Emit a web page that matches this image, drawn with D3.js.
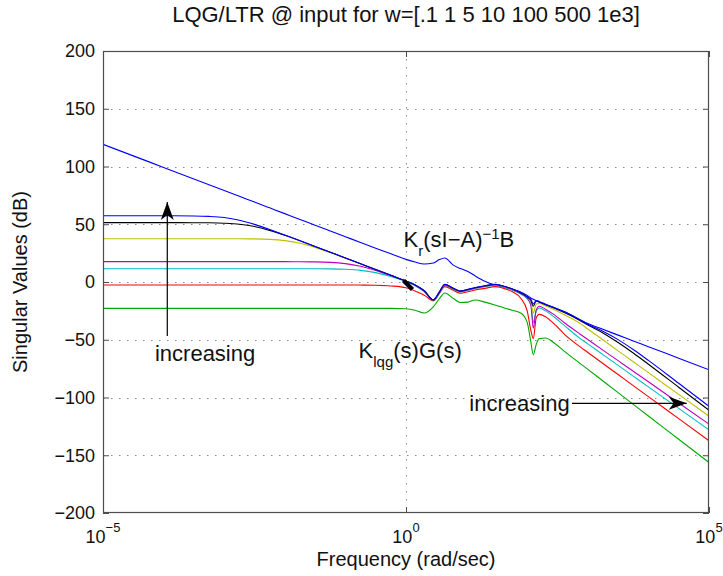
<!DOCTYPE html>
<html>
<head>
<meta charset="utf-8">
<script src="https://cdn.jsdelivr.net/npm/d3@7"></script>
<style>
  body { margin: 0; background: #fff; }
  text { font-family: "Liberation Sans", Arial, Helvetica, sans-serif; fill: #111; }
</style>
</head>
<body>
<svg id="chart" width="723" height="576"></svg>
<script>
// Frequency grid (rad/sec) shared by every singular-value trace
const freq = [1e-5, 3.16e-5, 1e-4, 3.16e-4, 5.62e-4, 1e-3, 1.78e-3, 3.16e-3, 5.62e-3, 0.01,
  0.0178, 0.0316, 0.0562, 0.1, 0.178, 0.316, 0.562, 1, 1.41, 2.0,
  2.82, 3.55, 4.37, 6.03, 7.94, 10.5, 13.8, 20.0, 29.5, 39.8,
  56.2, 79.4, 100, 115, 126, 141, 158, 200, 282, 417,
  741, 1000, 1778, 3162, 5623, 1e4, 3.16e4, 1e5];

// Target loop Kr(sI-A)^-1 B  (dB)
const targetLoop = [119.2, 109.2, 99.2, 89.2, 84.2, 79.2, 74.2, 69.2, 64.2, 59.2,
  54.2, 49.2, 44.2, 39.2, 34.2, 29.3, 24.4, 19.6, 17.3, 15.6,
  16.4, 19.4, 20.8, 14.6, 11.6, 9.1, 5.3, 0.7, -2.6, -4.3,
  -6.4, -8.8, -11.6, -13.8, -15.0, -16.2, -17.3, -19.3, -22.2, -25.8,
  -32.6, -35.9, -41.0, -46.0, -51.0, -56.0, -66.0, -76.0];

// Recovered loops Klqg(s)G(s) for each recovery gain w  (dB)
const svW01 = [-22.8, -22.8, -22.8, -22.8, -22.8, -22.8, -22.8, -22.8, -22.8, -22.8,
  -22.8, -22.8, -22.8, -22.8, -22.8, -22.8, -22.8, -23.2, -24.5, -26.9,
  -21.5, -14.5, -9.5, -14.3, -17.8, -17.4, -15.6, -17.4, -19.9, -22.0,
  -24.4, -27.0, -35.0, -52.0, -63.0, -54.0, -49.0, -48.5, -53.0, -60.3,
  -70.4, -75.6, -85.7, -95.8, -105.9, -116.0, -136.1, -156.3];
const svW1 = [-2.6, -2.6, -2.6, -2.6, -2.6, -2.6, -2.6, -2.6, -2.6, -2.6,
  -2.6, -2.6, -2.6, -2.6, -2.65, -2.8, -3.4, -5.0, -7.8, -11.5,
  -16.2, -10.0, -4.0, -7.2, -9.8, -8.4, -6.9, -5.5, -4.0, -5.3,
  -8.3, -14.5, -25.0, -42.0, -49.0, -31.0, -28.0, -30.0, -36.5, -45.5,
  -56.0, -61.0, -70.6, -80.1, -89.7, -99.2, -118.3, -137.4];
const svW5 = [11.5, 11.5, 11.5, 11.5, 11.5, 11.5, 11.5, 11.5, 11.5, 11.5,
  11.5, 11.45, 11.35, 11.0, 10.1, 8.1, 4.8, 0.4, -3.2, -8.4,
  -16.3, -9.6, -2.9, -6.2, -8.6, -7.2, -5.6, -4.0, -2.7, -4.2,
  -6.9, -10.6, -14.5, -19.5, -35.0, -25.0, -22.5, -25.0, -30.5, -38.0,
  -48.8, -53.6, -62.9, -72.2, -81.5, -90.8, -109.4, -128.0];
const svW10 = [17.6, 17.6, 17.6, 17.6, 17.6, 17.6, 17.6, 17.6, 17.6, 17.6,
  17.5, 17.4, 17.0, 15.9, 13.6, 10.0, 5.5, 0.7, -2.8, -8.0,
  -16.0, -9.2, -2.5, -5.9, -8.3, -6.9, -5.3, -3.7, -2.4, -3.9,
  -6.5, -10.2, -14.0, -20.0, -40.0, -24.0, -21.0, -23.5, -28.5, -35.5,
  -45.0, -49.8, -59.0, -68.1, -77.3, -86.4, -104.7, -123.0];
const svW100 = [37.5, 37.5, 37.5, 37.5, 37.5, 37.5, 37.4, 37.3, 36.9, 35.8,
  33.6, 30.0, 25.5, 20.7, 15.8, 10.8, 5.8, 0.8, -2.6, -7.7,
  -15.6, -8.8, -2.2, -5.6, -8.0, -6.6, -5.1, -3.5, -2.2, -3.6,
  -6.2, -9.8, -13.3, -17.0, -27.0, -19.0, -18.6, -20.6, -24.0, -28.6,
  -35.8, -40.7, -50.0, -59.6, -69.0, -78.5, -97.3, -116.2];
const svW500 = [51.4, 51.4, 51.4, 51.35, 51.25, 50.9, 50.05, 48.1, 44.7, 40.4,
  35.7, 30.8, 25.8, 20.8, 15.8, 10.8, 5.8, 0.8, -2.5, -7.6,
  -15.5, -8.7, -2.1, -5.5, -7.9, -6.5, -5.0, -3.4, -2.1, -3.5,
  -6.0, -9.6, -13.0, -15.8, -21.0, -16.5, -17.3, -19.6, -22.8, -26.6,
  -33.3, -37.3, -44.1, -52.4, -61.5, -71.2, -91.1, -111.1];
const svW1000 = [57.4, 57.4, 57.4, 57.2, 56.8, 55.8, 53.5, 49.9, 45.5, 40.7,
  35.8, 30.8, 25.8, 20.8, 15.8, 10.8, 5.8, 0.8, -2.5, -7.5,
  -15.4, -8.6, -2.0, -5.4, -7.8, -6.4, -4.9, -3.3, -2.0, -3.4,
  -5.9, -9.5, -12.8, -15.2, -19.0, -16.0, -16.8, -19.2, -22.3, -25.9,
  -32.6, -36.6, -42.6, -49.9, -58.5, -67.9, -87.7, -107.6];

// Axis ticks
const yTicks = [-200, -150, -100, -50, 0, 50, 100, 150, 200];
const xTickExps = [-5, 0, 5];

// Plot order follows the MATLAB colour cycle: target first, then w = .1 ... 1e3
const traces = [
  { values: targetLoop, color: "#0000ff" },
  { values: svW01,   color: "#00a800" },
  { values: svW1,    color: "#ff0000" },
  { values: svW5,    color: "#00bfbf" },
  { values: svW10,   color: "#bf00bf" },
  { values: svW100,  color: "#bfbf00" },
  { values: svW500,  color: "#000000" },
  { values: svW1000, color: "#0000ff" }
];

const W = 723, H = 576;
const m = { l: 103, r: 14, t: 51, b: 63 };
const svg = d3.select("#chart");

const x = d3.scaleLog().domain([1e-5, 1e5]).range([m.l, W - m.r]);
const y = d3.scaleLinear().domain([-200, 200]).range([H - m.b, m.t]);

// Dotted grid
const grid = svg.append("g").attr("stroke", "#8c8c8c").attr("stroke-width", 1)
  .attr("stroke-dasharray", "1.5,6.5");
grid.selectAll("line.h").data(yTicks.slice(1, -1)).join("line")
  .attr("x1", m.l).attr("x2", W - m.r)
  .attr("y1", d => Math.round(y(d)) + 0.5).attr("y2", d => Math.round(y(d)) + 0.5);
grid.selectAll("line.v").data([1]).join("line")
  .attr("y1", m.t).attr("y2", H - m.b)
  .attr("x1", d => Math.round(x(d)) + 0.5).attr("x2", d => Math.round(x(d)) + 0.5);

// Traces
svg.append("clipPath").attr("id", "plotClip").append("rect")
  .attr("x", m.l).attr("y", m.t).attr("width", W - m.l - m.r).attr("height", H - m.t - m.b);
const line = d3.line()
  .x((d, i) => x(freq[i]))
  .y(d => y(d))
  .curve(d3.curveMonotoneX);
svg.append("g").attr("clip-path", "url(#plotClip)")
  .selectAll("path").data(traces).join("path")
  .attr("fill", "none")
  .attr("stroke", d => d.color)
  .attr("stroke-width", 1.1)
  .attr("stroke-linejoin", "round")
  .attr("d", d => line(d.values));

// Axes with inward ticks on all four sides
const axisColor = "#4d4d4d";
function styleAxis(g) {
  g.select(".domain").remove();
  g.selectAll(".tick line").attr("stroke", axisColor);
}
svg.append("g").attr("transform", `translate(${m.l},0)`)
  .call(d3.axisLeft(y).tickValues(yTicks).tickSize(-6).tickPadding(8)
    .tickFormat(d3.format("d")))
  .call(styleAxis)
  .call(g => g.selectAll(".tick text").attr("font-size", 18)
    .attr("fill", "#222").style("font-family", "'Liberation Sans', Arial, sans-serif"));
svg.append("g").attr("transform", `translate(${W - m.r},0)`)
  .call(d3.axisRight(y).tickValues(yTicks).tickSize(-6).tickFormat(""))
  .call(styleAxis);
svg.append("g").attr("transform", `translate(0,${H - m.b})`)
  .call(d3.axisBottom(x).tickValues(xTickExps.map(e => Math.pow(10, e))).tickSize(-6).tickFormat(""))
  .call(styleAxis);
svg.append("g").attr("transform", `translate(0,${m.t})`)
  .call(d3.axisTop(x).tickValues(xTickExps.map(e => Math.pow(10, e))).tickSize(-6).tickFormat(""))
  .call(styleAxis);

svg.append("rect")
  .attr("x", m.l + 0.5).attr("y", m.t + 0.5)
  .attr("width", W - m.l - m.r - 1).attr("height", H - m.t - m.b - 1)
  .attr("fill", "none").attr("stroke", axisColor).attr("stroke-width", 1.2);

// Power-of-ten tick labels
const xl = svg.append("g").selectAll("text").data(xTickExps).join("text")
  .attr("x", d => x(Math.pow(10, d)))
  .attr("y", H - m.b + 30)
  .attr("text-anchor", "middle")
  .attr("font-size", 18)
  .attr("fill", "#222");
xl.append("tspan").text("10");
xl.append("tspan").attr("font-size", 13).attr("dy", -11)
  .text(d => d < 0 ? "\u2212" + Math.abs(d) : String(d));

// Title and axis labels
svg.append("text").attr("x", (m.l + W - m.r) / 2).attr("y", 22)
  .attr("text-anchor", "middle").attr("font-size", 22)
  .text("LQG/LTR @ input for w=[.1 1 5 10 100 500 1e3]");
svg.append("text").attr("x", (m.l + W - m.r) / 2).attr("y", 566)
  .attr("text-anchor", "middle").attr("font-size", 20)
  .text("Frequency (rad/sec)");
svg.append("text")
  .attr("transform", `translate(27,${(m.t + H - m.b) / 2}) rotate(-90)`)
  .attr("text-anchor", "middle").attr("font-size", 20)
  .text("Singular Values (dB)");

// Annotations (placed in data coordinates)
const ann = svg.append("g");
const t1 = ann.append("text").attr("x", x(0.91)).attr("y", y(30.3)).attr("font-size", 22);
t1.append("tspan").text("K");
t1.append("tspan").attr("font-size", 15).attr("dy", 9).text("r");
t1.append("tspan").attr("dy", -9).text("(sI\u2212A)");
t1.append("tspan").attr("font-size", 15).attr("dy", -8).text("\u22121");
t1.append("tspan").attr("dy", 8).text("B");

const t2 = ann.append("text").attr("x", x(0.165)).attr("y", y(-66.0)).attr("font-size", 22);
t2.append("tspan").text("K");
t2.append("tspan").attr("font-size", 15).attr("dy", 9).text("lqg");
t2.append("tspan").attr("dy", -9).text("(s)G(s)");

ann.append("text").attr("x", x(7.2e-5)).attr("y", y(-68.4)).attr("font-size", 22).text("increasing");
ann.append("text").attr("x", x(11.1)).attr("y", y(-112.1)).attr("font-size", 22).text("increasing");

// Arrows: shaft plus notched head
function arrow(x1, y1, x2, y2) {
  const px1 = x(x1), py1 = y(y1), px2 = x(x2), py2 = y(y2);
  const ang = Math.atan2(py2 - py1, px2 - px1) * 180 / Math.PI;
  ann.append("line").attr("x1", px1).attr("y1", py1).attr("x2", px2).attr("y2", py2)
    .attr("stroke", "#000").attr("stroke-width", 1.2);
  ann.append("path")
    .attr("d", "M0,0L-18,-6.5L-13,0L-18,6.5Z")
    .attr("fill", "#000")
    .attr("transform", `translate(${px2},${py2}) rotate(${ang})`);
}
arrow(1.15e-4, -46.8, 1.15e-4, 69.3);
arrow(548, -105.0, 4.29e4, -105.0);

// Short heavy marker on the recovered loop
ann.append("line")
  .attr("x1", x(0.91)).attr("y1", y(1.3))
  .attr("x2", x(1.28)).attr("y2", y(-6.5))
  .attr("stroke", "#000").attr("stroke-width", 4.5);
</script>
</body>
</html>
